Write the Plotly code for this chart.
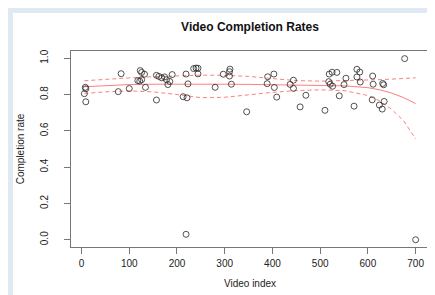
import plotly.graph_objects as go

# Observed points (video index, completion rate)
video_index = [6, 8, 9, 9, 83, 77, 100, 118, 122, 126, 123, 126, 132, 134, 157, 157,
               162, 168, 174, 178, 181, 185, 190, 213, 221, 219, 223, 219, 235, 240,
               244, 244, 280, 297, 311, 310, 310, 314, 346, 390, 403, 389, 404, 409,
               444, 437, 444, 470, 458, 510, 519, 525, 535, 518, 521, 526, 554, 550,
               540, 577, 583, 577, 584, 571, 610, 611, 609, 631, 633, 634, 624, 630,
               677, 700]
completion = [0.805, 0.84, 0.832, 0.76, 0.915, 0.816, 0.833, 0.877, 0.874, 0.882, 0.932,
               0.922, 0.912, 0.84, 0.906, 0.77, 0.90, 0.892, 0.897, 0.882, 0.855, 0.872,
               0.91, 0.788, 0.782, 0.913, 0.859, 0.03, 0.943, 0.946, 0.945, 0.914, 0.84,
               0.912, 0.94, 0.926, 0.902, 0.857, 0.705, 0.898, 0.913, 0.86, 0.839, 0.786,
               0.879, 0.856, 0.834, 0.796, 0.732, 0.713, 0.913, 0.923, 0.922, 0.871,
               0.857, 0.846, 0.89, 0.855, 0.793, 0.939, 0.924, 0.897, 0.869, 0.736,
               0.902, 0.857, 0.771, 0.861, 0.854, 0.762, 0.742, 0.72, 0.998, 0.0]

# Smoothed fit and band
fit_x = [6, 50, 100, 150, 200, 250, 300, 350, 400, 450, 500, 550, 600, 625, 650, 675, 700]
fit_y = [0.843, 0.850, 0.855, 0.857, 0.858, 0.858, 0.857, 0.856, 0.855, 0.854, 0.852,
         0.848, 0.838, 0.826, 0.808, 0.783, 0.750]
upper_y = [0.876, 0.885, 0.892, 0.898, 0.904, 0.907, 0.906, 0.900, 0.888, 0.877, 0.874,
           0.876, 0.880, 0.882, 0.885, 0.888, 0.892]
lower_y = [0.806, 0.815, 0.820, 0.815, 0.800, 0.783, 0.785, 0.800, 0.812, 0.822, 0.826,
           0.822, 0.795, 0.765, 0.718, 0.655, 0.555]

x_ticks = [0, 100, 200, 300, 400, 500, 600, 700]
y_ticks = [0.0, 0.2, 0.4, 0.6, 0.8, 1.0]
y_tick_labels = ["0.0", "0.2", "0.4", "0.6", "0.8", "1.0"]

line_col = "rgba(255,40,40,0.6)"
fig = go.Figure()
fig.add_trace(go.Scatter(x=fit_x, y=upper_y, mode="lines",
                         line=dict(color=line_col, width=1, dash="4px,3px"), hoverinfo="skip"))
fig.add_trace(go.Scatter(x=fit_x, y=lower_y, mode="lines",
                         line=dict(color=line_col, width=1, dash="4px,3px"), hoverinfo="skip"))
fig.add_trace(go.Scatter(x=fit_x, y=fit_y, mode="lines",
                         line=dict(color=line_col, width=1), hoverinfo="skip"))
fig.add_trace(go.Scatter(x=video_index, y=completion, mode="markers",
                         marker=dict(symbol="circle-open", size=6,
                                     color="rgba(40,40,40,0.8)",
                                     line=dict(width=1))))

font = "Liberation Sans, Arial, Helvetica, sans-serif"
axis_common = dict(showline=True, mirror=True, linecolor="#777", linewidth=1,
                   ticks="outside", ticklen=6, tickcolor="#777", showgrid=False,
                   zeroline=False, tickfont=dict(size=10, color="#222", family=font))

fig.update_layout(
    width=435, height=295,
    margin=dict(l=63, r=14, t=43, b=56),
    paper_bgcolor="#dfe8f3",
    plot_bgcolor="white",
    showlegend=False,
    font=dict(family=font, color="#222"),
    title=dict(text="<b>Video Completion Rates</b>", x=0.5, xref="paper",
               y=1 - 19 / 295, yref="container", yanchor="middle",
               font=dict(size=12, color="#111", family=font)),
    xaxis=dict(range=[-22, 728], tickvals=x_ticks, ticklabelstandoff=1,
               title=dict(text="Video index", font=dict(size=10, family=font), standoff=11),
               **axis_common),
    yaxis=dict(range=[-0.04, 1.04], tickvals=y_ticks, ticktext=y_tick_labels,
               tickangle=-90, ticklabelstandoff=12,
               title=dict(text="Completion rate", font=dict(size=10, family=font), standoff=12),
               **axis_common),
    shapes=[dict(type="rect", xref="paper", yref="paper", x0=-0.162, x1=1.2,
                 y0=-0.5, y1=1.194, fillcolor="white", line=dict(width=0), layer="below")],
)

fig.write_html("out.html")
